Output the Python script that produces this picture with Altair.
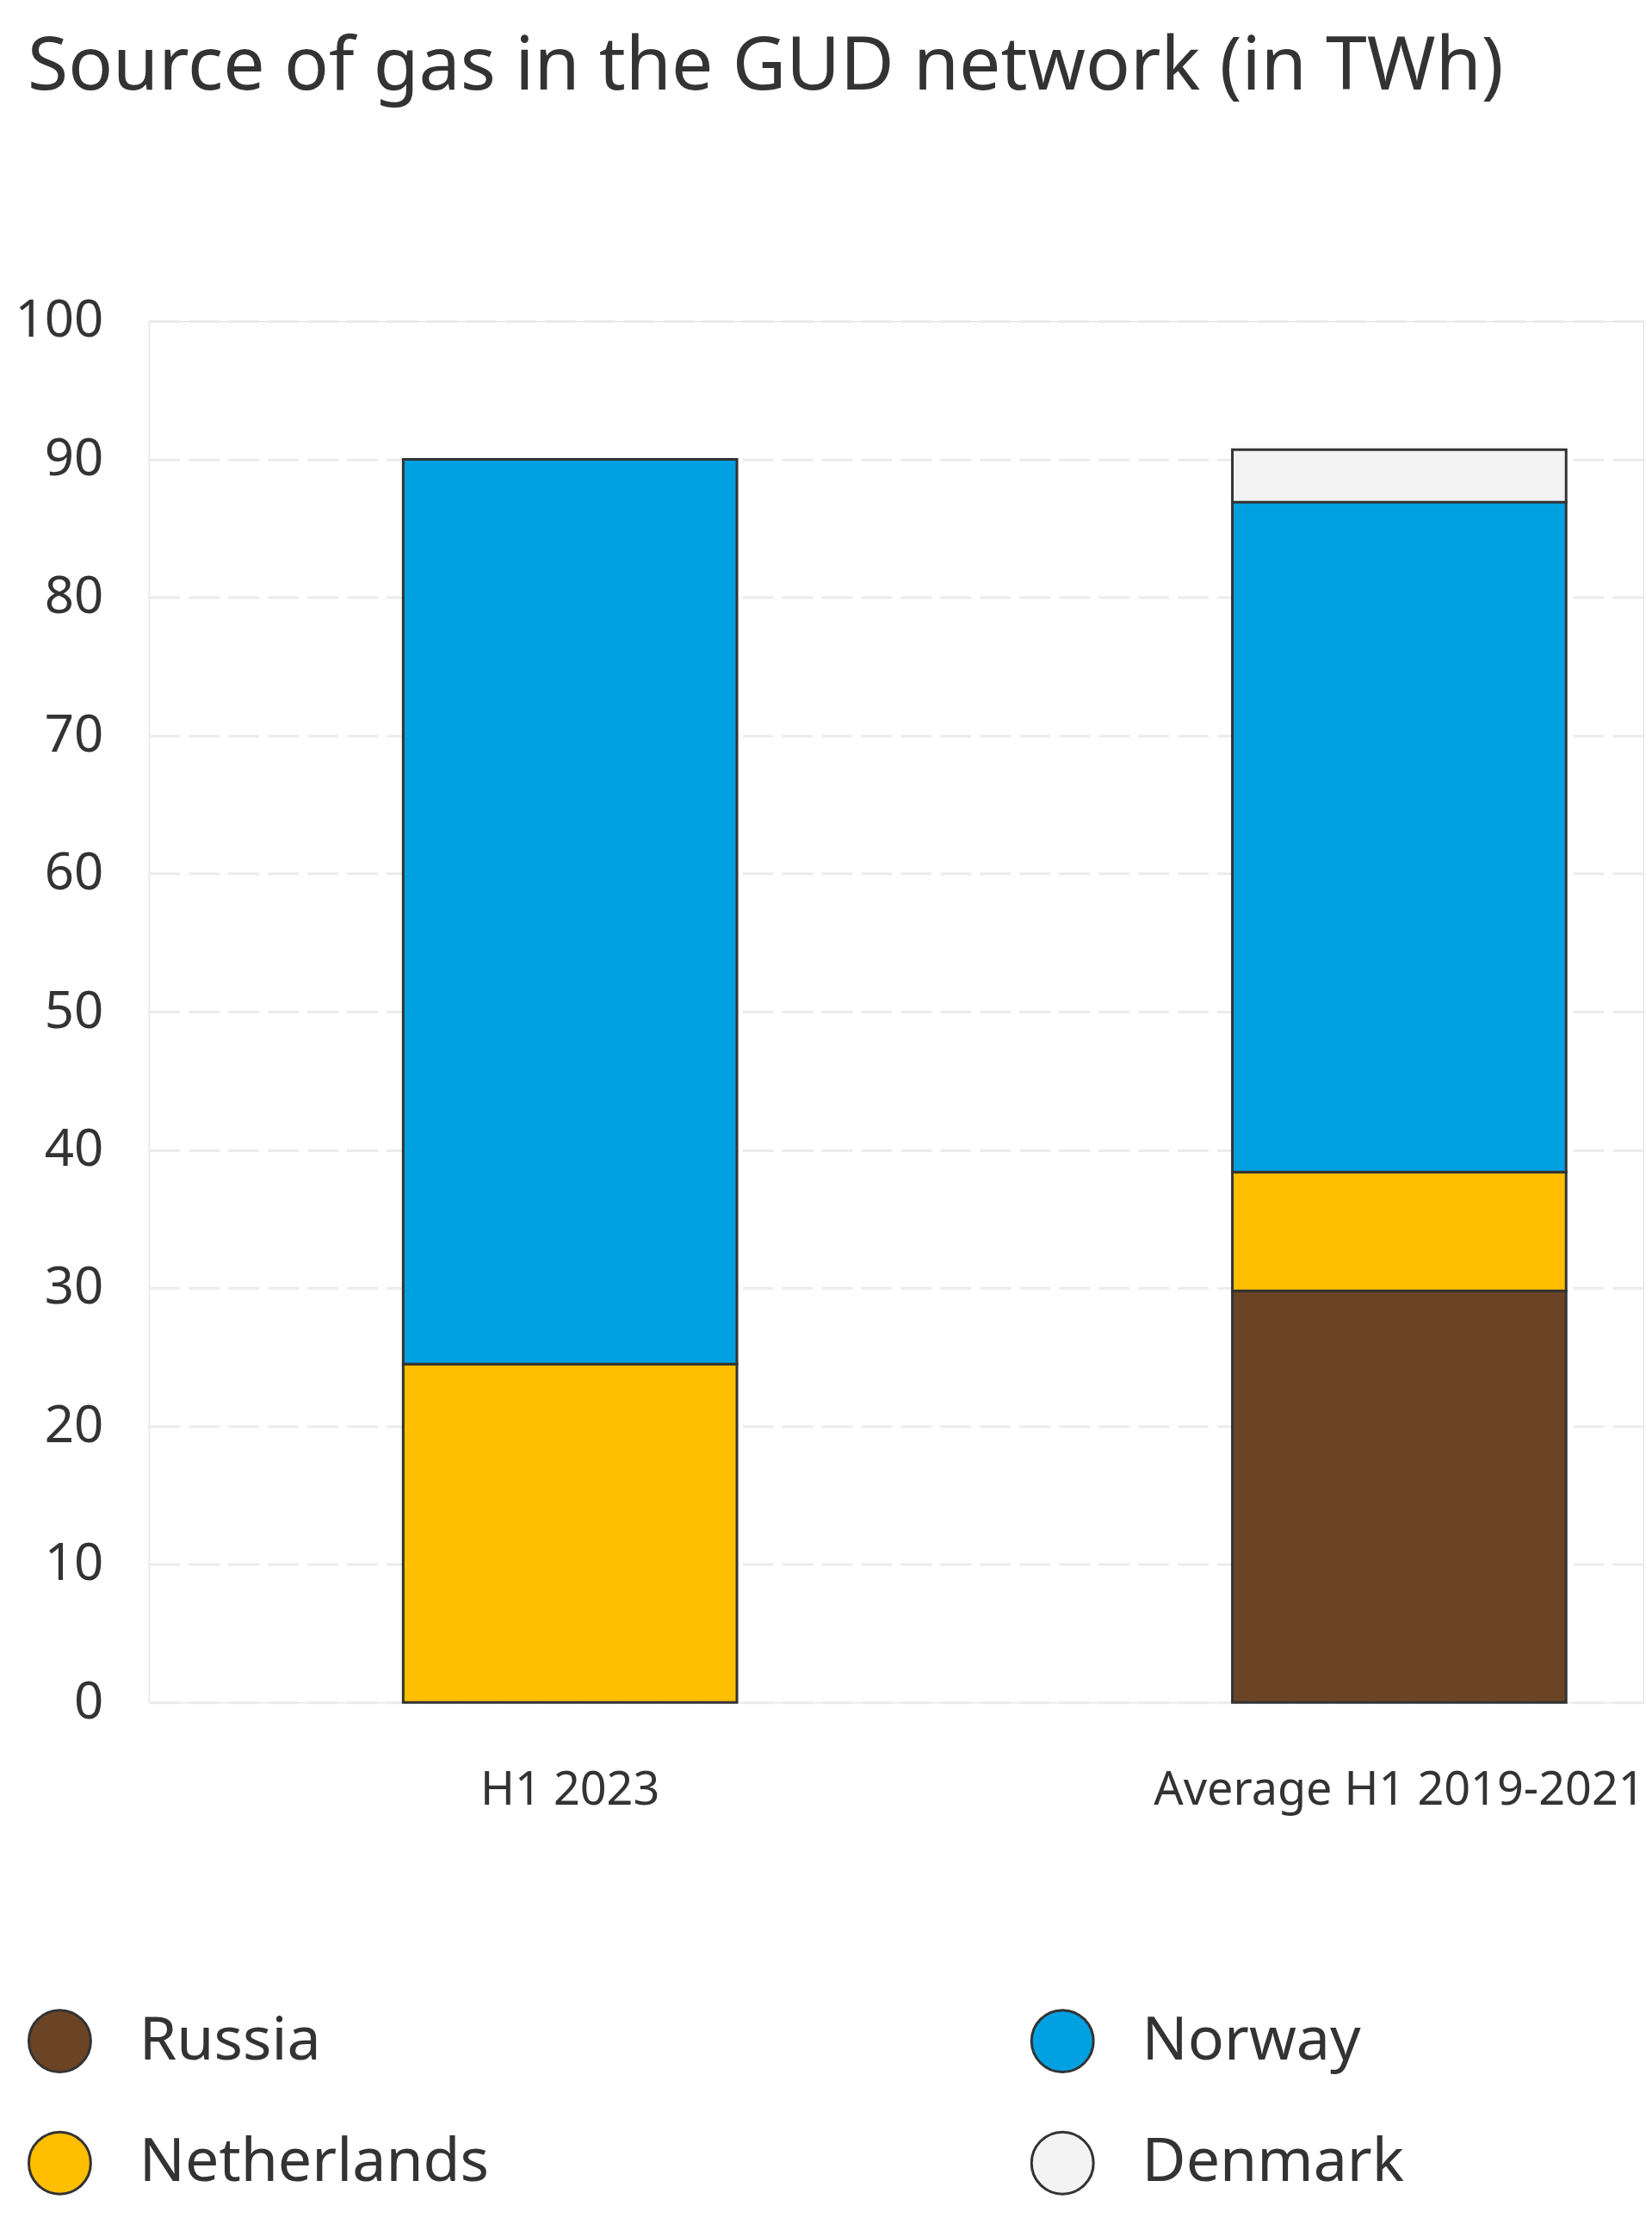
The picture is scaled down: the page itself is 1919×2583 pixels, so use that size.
import altair as alt
import pandas as pd

periods = ["H1 2023", "Average H1 2019-2021"]
sources = ["Russia", "Netherlands", "Norway", "Denmark"]
russia = [0.0, 29.8]
netherlands = [24.5, 8.6]
norway = [65.5, 48.5]
denmark = [0.0, 3.8]
colors = ["#6b4426", "#ffbf00", "#00a0e1", "#f3f3f3"]
y_ticks = [0, 10, 20, 30, 40, 50, 60, 70, 80, 90, 100]

rows = []
for i, p in enumerate(periods):
    for k, (s, vals) in enumerate(zip(sources, [russia, netherlands, norway, denmark])):
        if vals[i] > 0:
            rows.append({"period": p, "source": s, "value": vals[i], "ord": k})
df = pd.DataFrame(rows)

chart = alt.Chart(df).mark_bar(stroke="#333333", strokeWidth=3).encode(
    x=alt.X("period:N", sort=periods, title=None,
            scale=alt.Scale(paddingInner=0.5975, paddingOuter=0.2, align=0.767),
            axis=alt.Axis(labelAngle=0, labelFontSize=54, labelColor="#333333",
                          labelFont="Noto Sans", labelPadding=75, labelLimit=0,
                          domain=False, ticks=False, grid=False)),
    y=alt.Y("value:Q", stack="zero", title=None,
            scale=alt.Scale(domain=[0, 100], nice=False),
            axis=alt.Axis(values=y_ticks, labelFontSize=60, labelColor="#333333",
                          labelFont="Noto Sans", labelPadding=53, domain=False,
                          ticks=False, grid=True, gridColor="#ebebeb",
                          gridDash=[36, 10], gridWidth=3)),
    color=alt.Color("source:N",
                    scale=alt.Scale(domain=sources, range=colors),
                    legend=alt.Legend(title=None, orient="none", legendX=-141,
                                      legendY=1962, columns=2, symbolType="circle",
                                      symbolSize=5184, symbolStrokeColor="#333333",
                                      symbolStrokeWidth=3, labelFontSize=70,
                                      labelFont="Noto Sans", labelColor="#333333",
                                      labelOffset=55, columnPadding=624,
                                      rowPadding=57, padding=0, labelLimit=0)),
    order=alt.Order("ord:Q", sort="ascending"),
).properties(
    width=1738,
    height=1606,
    padding={"left": 9, "top": 26, "right": 0, "bottom": 10},
    title=alt.TitleParams("Source of gas in the GUD network (in TWh)",
                          anchor="start", frame="group", dx=-141, offset=221,
                          fontSize=86, fontWeight="normal", font="Noto Sans",
                          color="#333333"),
).configure_view(stroke=None).configure(background="white")

chart.save("out.html", embed_options={"renderer": "svg", "actions": False})
